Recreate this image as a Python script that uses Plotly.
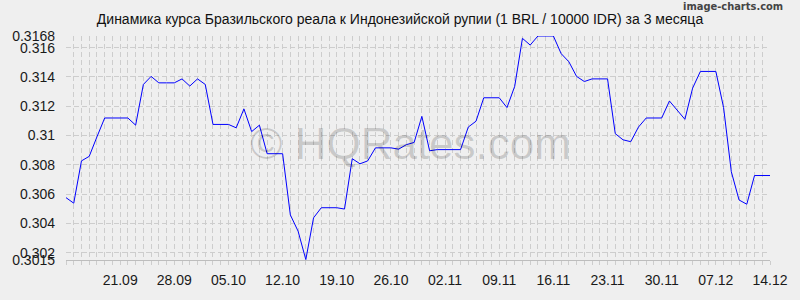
import datetime as dt
import plotly.graph_objects as go

start_date = dt.date(2023, 9, 14)
rates = [
    0.30576, 0.30538, 0.30827, 0.30858, 0.30991, 0.31120, 0.31120, 0.31120, 0.31120, 0.31071,
    0.31349, 0.31404, 0.31360, 0.31360, 0.31360, 0.31387, 0.31338, 0.31387, 0.31349, 0.31076,
    0.31076, 0.31076, 0.31053, 0.31182, 0.31027, 0.31071, 0.30876, 0.30876, 0.30876, 0.30458,
    0.30347, 0.30153, 0.30438, 0.30507, 0.30507, 0.30507, 0.30498, 0.30842, 0.30807, 0.30827,
    0.30916, 0.30916, 0.30916, 0.30907, 0.30938, 0.30953, 0.31131, 0.30896, 0.30904, 0.30904,
    0.30904, 0.30904, 0.31058, 0.31098, 0.31258, 0.31258, 0.31258, 0.31191, 0.31336, 0.31664,
    0.31618, 0.31680, 0.31680, 0.31680, 0.31560, 0.31504, 0.31404, 0.31369, 0.31387, 0.31387,
    0.31387, 0.31013, 0.30971, 0.30958, 0.31058, 0.31120, 0.31120, 0.31120, 0.31236, 0.31173,
    0.31111, 0.31324, 0.31438, 0.31438, 0.31438, 0.31191, 0.30753, 0.30560, 0.30531, 0.30727,
    0.30727, 0.30727,
]
dates = [start_date + dt.timedelta(days=i) for i in range(len(rates))]

x_tick_dates = ["2023-09-21", "2023-09-28", "2023-10-05", "2023-10-12", "2023-10-19",
                "2023-10-26", "2023-11-02", "2023-11-09", "2023-11-16", "2023-11-23",
                "2023-11-30", "2023-12-07", "2023-12-14"]
x_tick_labels = ["21.09", "28.09", "05.10", "12.10", "19.10", "26.10", "02.11",
                 "09.11", "16.11", "23.11", "30.11", "07.12", "14.12"]
y_tickvals = [0.3015, 0.302, 0.304, 0.306, 0.308, 0.31, 0.312, 0.314, 0.316, 0.3168]
y_ticktext = ["0.3015", "0.302", "0.304", "0.306", "0.308", "0.31", "0.312", "0.314", "0.316", "0.3168"]
y_range = [0.3015, 0.3168]
x_range = ["2023-09-14", "2023-12-14"]

title_text = "Динамика курса Бразильского реала к Индонезийской рупии (1 BRL / 10000 IDR) за 3 месяца"

BG = "#efefef"
GRID = "#cdcdcd"
FONT = "Liberation Sans, Arial, sans-serif"

fig = go.Figure()
fig.add_trace(go.Scatter(
    x=dates, y=rates, mode="lines",
    line=dict(color="#0000ff", width=1),
    hoverinfo="skip", showlegend=False,
))

fig.update_layout(
    width=800, height=300,
    margin=dict(l=60, r=20, t=36, b=33),
    paper_bgcolor=BG, plot_bgcolor=BG,
    font=dict(family=FONT, size=14, color="#1a1a1a"),
    title=dict(text=title_text, x=0.5, xref="container", xanchor="center",
               y=1 - 19 / 300, yref="container", yanchor="middle",
               font=dict(family=FONT, size=14, color="#111111")),
    xaxis=dict(
        type="date", range=x_range,
        tickmode="array", tickvals=x_tick_dates, ticktext=x_tick_labels,
        ticks="outside", ticklen=4, tickcolor=GRID,
        showgrid=True, gridcolor=GRID, griddash="5px,3px", gridwidth=1,
        minor=dict(tickmode="linear", dtick=86400000, tick0="2023-09-14",
                   showgrid=True, gridcolor=GRID, griddash="5px,3px", gridwidth=1,
                   ticks="outside", ticklen=4, tickcolor=GRID),
        showline=True, linecolor="#bdbdbd", linewidth=1,
        zeroline=False, ticklabelstandoff=3,
        tickfont=dict(family=FONT, size=14, color="#1a1a1a"),
    ),
    yaxis=dict(
        range=y_range, tickvals=y_tickvals, ticktext=y_ticktext,
        ticks="", showgrid=True, gridcolor=GRID, griddash="5px,3px", gridwidth=1,
        zeroline=False, showline=False, ticklabelstandoff=10,
        tickfont=dict(family=FONT, size=14, color="#1a1a1a"),
    ),
    annotations=[
        dict(text="© HQRates.com", xref="paper", yref="paper", x=0.49, y=0.52,
             xanchor="center", yanchor="middle", showarrow=False,
             font=dict(family=FONT, size=44, color="rgba(0,0,0,0.16)")),
        dict(text="<b>image-charts.com</b>", xref="paper", yref="paper",
             x=(795 - 60) / 720, y=1 + (36 - 6) / 230.7,
             xanchor="right", yanchor="middle", showarrow=False,
             font=dict(family="DejaVu Sans Condensed, DejaVu Sans", size=11, color="#444444")),
    ],
)

fig.write_html("out.html")
